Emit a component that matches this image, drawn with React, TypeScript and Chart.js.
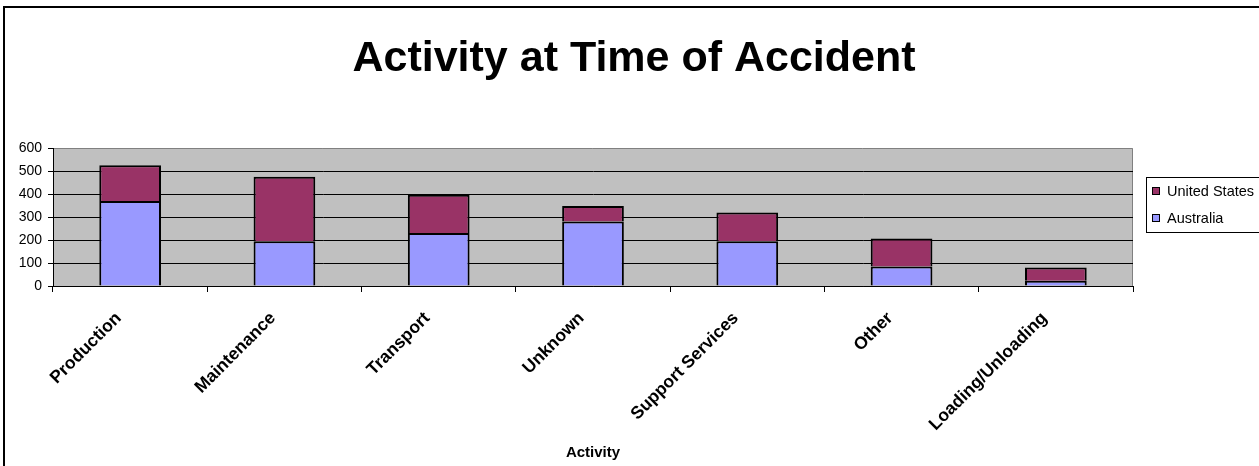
import React, { useEffect, useRef } from "react";
import { Chart, registerables } from "chart.js";
Chart.register(...registerables);

const categories = ["Production", "Maintenance", "Transport", "Unknown", "Support Services", "Other", "Loading/Unloading"];
const australia = [370, 195, 230, 280, 195, 85, 23];
const unitedStates = [155, 280, 167, 68, 125, 122, 57];
const yTicks = [0, 100, 200, 300, 400, 500, 600];
const seriesNames = ["Australia", "United States"];
const seriesColors = ["#9999FF", "#993366"];
const titleText = "Activity at Time of Accident";
const xAxisTitle = "Activity";

const FONT = "'Liberation Sans', Arial, Helvetica, sans-serif";

const decorPlugin = {
  id: "decor",
  beforeDraw(chart: any) {
    const { ctx, chartArea: a, width, height } = chart;
    ctx.save();
    ctx.fillStyle = "#ffffff";
    ctx.fillRect(0, 0, width, height);
    // outer frame (cropped on right/bottom)
    ctx.strokeStyle = "#000";
    ctx.lineWidth = 2;
    ctx.beginPath();
    ctx.moveTo(4, height + 4);
    ctx.lineTo(4, 7);
    ctx.lineTo(width + 4, 7);
    ctx.stroke();
    // plot area
    ctx.fillStyle = "#C0C0C0";
    ctx.fillRect(a.left, a.top, a.right - a.left, a.bottom - a.top);
    ctx.strokeStyle = "#808080";
    ctx.lineWidth = 1;
    ctx.beginPath();
    ctx.moveTo(a.left, a.top + 0.5);
    ctx.lineTo(a.right - 0.5, a.top + 0.5);
    ctx.lineTo(a.right - 0.5, a.bottom);
    ctx.stroke();
    ctx.restore();
  },
  afterDraw(chart: any) {
    const { ctx } = chart;
    ctx.save();
    // title
    ctx.fillStyle = "#000";
    ctx.font = `bold 43px ${FONT}`;
    ctx.textAlign = "center";
    ctx.textBaseline = "alphabetic";
    ctx.fillText(titleText, 634, 71);
    // legend
    const lx = 1146, ly = 177, lh = 55;
    ctx.strokeStyle = "#000";
    ctx.lineWidth = 1;
    ctx.strokeRect(lx + 0.5, ly + 0.5, 130, lh);
    const items = chart.data.datasets.slice().reverse();
    ctx.font = `14.5px ${FONT}`;
    ctx.textAlign = "left";
    ctx.textBaseline = "middle";
    items.forEach((ds: any, i: number) => {
      const yc = ly + 14 + i * 27;
      ctx.fillStyle = ds.backgroundColor;
      ctx.fillRect(lx + 6, yc - 4, 8, 8);
      ctx.strokeStyle = "#000";
      ctx.strokeRect(lx + 6.5, yc - 3.5, 7, 7);
      ctx.fillStyle = "#000";
      ctx.fillText(ds.label, lx + 21, yc + 1);
    });
    ctx.restore();
  },
};

export default function App() {
  const ref = useRef<HTMLCanvasElement | null>(null);
  useEffect(() => {
    if (!ref.current) return;
    const chart = new Chart(ref.current, {
      type: "bar",
      data: {
        labels: categories,
        datasets: [
          {
            label: seriesNames[0],
            data: australia,
            backgroundColor: seriesColors[0],
            borderColor: "#000",
            borderWidth: { top: 2, left: 2, right: 2, bottom: 0 },
            borderSkipped: false,
            barPercentage: 0.4,
            categoryPercentage: 1,
          },
          {
            label: seriesNames[1],
            data: unitedStates,
            backgroundColor: seriesColors[1],
            borderColor: "#000",
            borderWidth: { top: 2, left: 2, right: 2, bottom: 0 },
            borderSkipped: false,
            barPercentage: 0.4,
            categoryPercentage: 1,
          },
        ],
      },
      options: {
        responsive: true,
        maintainAspectRatio: false,
        animation: false,
        layout: { padding: { top: 148, right: 126, left: 0, bottom: 0 } },
        plugins: {
          legend: { display: false },
          title: { display: false },
          tooltip: { enabled: false },
        },
        scales: {
          x: {
            stacked: true,
            grid: { display: true, drawOnChartArea: false, drawTicks: true, tickLength: 6, color: "#000", offset: true },
            border: { display: true, color: "#000", width: 1 },
            ticks: {
              color: "#000",
              font: { family: FONT, size: 17.5, weight: "bold" },
              minRotation: 45,
              maxRotation: 45,
              autoSkip: false,
              padding: 16,
              labelOffset: -11.5,
            },
            title: {
              display: true,
              text: xAxisTitle,
              color: "#000",
              font: { family: FONT, size: 15, weight: "bold" },
              padding: { top: 0, bottom: 4 },
            },
            afterFit: (s: any) => {
              s.height = 180;
            },
          },
          y: {
            stacked: true,
            min: 0,
            max: 600,
            afterBuildTicks: (s: any) => {
              s.ticks = yTicks.map((v) => ({ value: v }));
            },
            ticks: { color: "#000", font: { family: FONT, size: 14 }, padding: 6 },
            grid: {
              color: (c: any) => (c.tick && c.tick.value === 600 ? "rgba(0,0,0,0)" : "#000"),
              tickColor: "#000",
              tickLength: 5,
              drawTicks: true,
            },
            border: { display: true, color: "#000", width: 1 },
            afterFit: (s: any) => {
              s.width = 53;
            },
          },
        },
      },
      plugins: [decorPlugin],
    });
    return () => chart.destroy();
  }, []);
  return (
    <div style={{ position: "fixed", left: 0, top: 0, width: 1259, height: 466 }}>
      <canvas ref={ref} />
    </div>
  );
}
